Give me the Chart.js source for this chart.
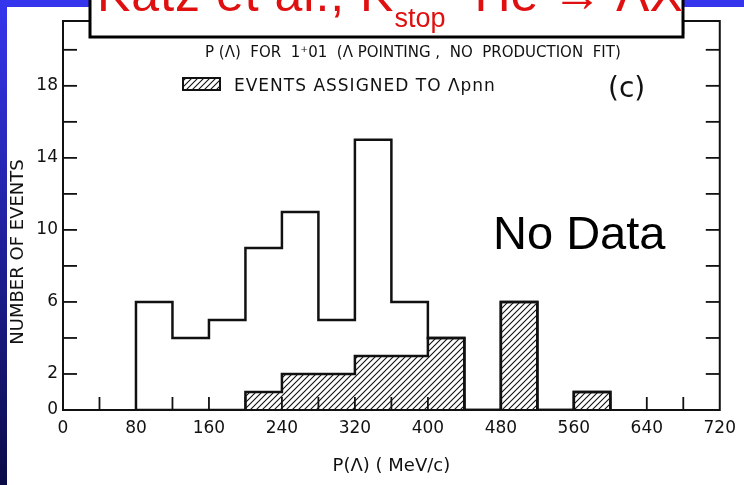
<!DOCTYPE html>
<html>
<head>
<meta charset="utf-8">
<title>P(Λ) for 1+01</title>
<script src="https://cdn.jsdelivr.net/npm/chart.js@4.4.1/dist/chart.umd.min.js"></script>
<style>
  html, body { margin: 0; padding: 0; background: #fff; }
  #wrap { width: 744px; height: 485px; }
</style>
</head>
<body>
<div id="wrap"><canvas id="chart" width="744" height="485"></canvas></div>
<script>
// histogram bins, 40 MeV/c wide
const binEdges = [80, 120, 160, 200, 240, 280, 320, 360, 400, 440, 480, 520, 560, 600];
// every event in the bin (open histogram)
const allEvents = [6, 4, 5, 9, 11, 5, 15, 6, 4, 0, 6, 0, 1];
// events assigned to Λpnn (hatched)
const lambdaPnnEvents = [0, 0, 0, 1, 2, 2, 3, 3, 4, 0, 6, 0, 1];
// which tick values get a number
const xTickLabels = [0, 80, 160, 240, 320, 400, 480, 560, 640, 720];
const yTickLabels = [0, 2, 6, 10, 14, 18];

const INK = "#111";
const LABEL_FONT = "DejaVu Sans";

// step outline: start on the axis, one point per left bin edge, back to the axis
function stepPoints(edges, counts) {
  const pts = [{ x: edges[0], y: 0 }];
  counts.forEach((c, i) => pts.push({ x: edges[i], y: c }));
  pts.push({ x: edges[edges.length - 1], y: 0 });
  return pts;
}

// "/" hatching used for the Λpnn events
function makeHatch() {
  const s = 6;
  const c = document.createElement("canvas");
  c.width = s; c.height = s;
  const g = c.getContext("2d");
  g.strokeStyle = INK;
  g.lineWidth = 1.1;
  g.beginPath();
  g.moveTo(0, s); g.lineTo(s, 0);
  g.moveTo(-1, 1); g.lineTo(1, -1);
  g.moveTo(s - 1, s + 1); g.lineTo(s + 1, s - 1);
  g.stroke();
  return g.createPattern(c, "repeat");
}
const hatch = makeHatch();

function line(ctx, x1, y1, x2, y2) {
  ctx.beginPath();
  ctx.moveTo(x1, y1);
  ctx.lineTo(x2, y2);
  ctx.stroke();
}

const paper = {
  id: "paper",
  beforeDraw(chart) {
    const { ctx, width, height } = chart;
    const g = ctx.createLinearGradient(0, 0, 0, height);
    g.addColorStop(0, "#3535ee");
    g.addColorStop(1, "#0b0b48");
    ctx.save();
    ctx.fillStyle = g;
    ctx.fillRect(0, 0, width, height);
    ctx.fillStyle = "#fff";
    ctx.fillRect(7, 7, width - 7, height - 7);
    ctx.restore();
  },
  afterDraw(chart) {
    const { ctx, chartArea: a } = chart;
    const xs = chart.scales.x, ys = chart.scales.y;
    ctx.save();
    ctx.strokeStyle = INK;
    ctx.fillStyle = INK;

    // frame
    ctx.lineWidth = 2;
    ctx.strokeRect(a.left, a.top, a.right - a.left, a.bottom - a.top);

    // inward ticks on all four sides
    ctx.lineWidth = 1.8;
    xs.ticks.forEach(t => {
      if (t.value <= xs.min || t.value >= xs.max) return;
      const px = xs.getPixelForValue(t.value);
      line(ctx, px, a.bottom, px, a.bottom - 13);
      line(ctx, px, a.top, px, a.top + 13);
    });
    ys.ticks.forEach(t => {
      if (t.value <= ys.min || t.value >= ys.max) return;
      const py = ys.getPixelForValue(t.value);
      line(ctx, a.left, py, a.left + 14, py);
      line(ctx, a.right, py, a.right - 14, py);
    });

    // y axis title, sitting a little low like the original lettering
    ctx.save();
    ctx.translate(18, 252);
    ctx.rotate(-Math.PI / 2);
    ctx.font = `18px "${LABEL_FONT}"`;
    ctx.textAlign = "center";
    ctx.textBaseline = "middle";
    ctx.fillText(ys.options.title.text, 0, 0);
    ctx.restore();

    // header line
    ctx.font = `15px "${LABEL_FONT}"`;
    ctx.textBaseline = "alphabetic";
    ctx.fillText("P (Λ)  FOR  1⁺01  (Λ POINTING ,  NO  PRODUCTION  FIT)", 205, 57);

    // legend for the hatched set
    const ds = chart.data.datasets[0];
    ctx.fillStyle = hatch;
    ctx.fillRect(183, 78, 37, 12);
    ctx.lineWidth = 2;
    ctx.strokeRect(183, 78, 37, 12);
    ctx.fillStyle = INK;
    ctx.font = `17px "${LABEL_FONT}"`;
    ctx.letterSpacing = "1px";
    ctx.fillText(ds.label, 234, 91);
    ctx.letterSpacing = "0px";

    // panel tag
    ctx.font = `28px "${LABEL_FONT}"`;
    ctx.fillText("(c)", 608, 97);

    // overlay note
    ctx.font = '47px "Liberation Sans"';
    ctx.fillStyle = "#000";
    ctx.fillText("No Data", 493, 249);

    // slide title box over the top of the figure
    ctx.fillStyle = "#fff";
    ctx.fillRect(90, -6, 593, 43);
    ctx.lineWidth = 3;
    ctx.strokeStyle = "#000";
    ctx.strokeRect(90, -6, 593, 43);

    ctx.save();
    ctx.beginPath();
    ctx.rect(92, 0, 589, 35);
    ctx.clip();
    ctx.fillStyle = "#e01010";
    let x = 97;
    const big = '50px "Liberation Sans"', small = '27px "Liberation Sans"';
    const parts = [
      [big, "1px", "Katz et al., K", 11],
      [small, "0px", "−", -16],
      [small, "0px", "stop", 27],
      [big, "0px", " ", 11],
      [small, "0px", "4", -16],
      [big, "0px", "He → ΛX", 11]
    ];
    parts.forEach(([f, sp, s, y], i) => {
      ctx.font = f;
      ctx.letterSpacing = sp;
      ctx.fillText(s, x, y);
      // the superscript minus sits above the subscript, so don't advance past it
      if (i !== 1) x += ctx.measureText(s).width;
    });
    ctx.letterSpacing = "0px";
    ctx.restore();
    ctx.restore();
  }
};

new Chart(document.getElementById("chart"), {
  type: "line",
  data: {
    datasets: [
      {
        label: "EVENTS ASSIGNED TO Λpnn",
        data: stepPoints(binEdges, lambdaPnnEvents),
        stepped: "before",
        fill: "origin",
        backgroundColor: hatch,
        borderColor: INK,
        borderWidth: 2.5,
        pointRadius: 0
      },
      {
        label: "ALL EVENTS",
        data: stepPoints(binEdges, allEvents),
        stepped: "before",
        fill: false,
        borderColor: INK,
        borderWidth: 2.5,
        pointRadius: 0
      }
    ]
  },
  options: {
    responsive: false,
    animation: false,
    layout: { padding: { left: 0, right: 21, top: 21, bottom: 0 } },
    plugins: {
      legend: { display: false },
      tooltip: { enabled: false }
    },
    scales: {
      x: {
        type: "linear",
        min: 0,
        max: 720,
        grid: { display: false, drawTicks: false },
        border: { display: false },
        ticks: {
          stepSize: 40,
          padding: 8,
          color: INK,
          font: { family: LABEL_FONT, size: 17 },
          maxRotation: 0,
          autoSkip: false,
          callback: v => (xTickLabels.includes(v) ? String(v) : "")
        },
        title: {
          display: true,
          text: "P(Λ) ( MeV/c)",
          color: INK,
          font: { family: LABEL_FONT, size: 18 },
          padding: { top: 0, bottom: 8 }
        },
        afterFit: s => { s.height = 75; }
      },
      y: {
        min: 0,
        max: 21.6,
        grid: { display: false, drawTicks: false },
        border: { display: false },
        ticks: {
          stepSize: 2,
          padding: 5,
          includeBounds: false,
          color: INK,
          font: { family: LABEL_FONT, size: 17 },
          autoSkip: false,
          callback: v => (yTickLabels.includes(v) ? String(v) : "")
        },
        // drawn by the paper plugin so it can sit off-centre
        title: { display: false, text: "NUMBER OF EVENTS" },
        afterFit: s => { s.width = 63; }
      }
    }
  },
  plugins: [paper]
});
</script>
</body>
</html>
